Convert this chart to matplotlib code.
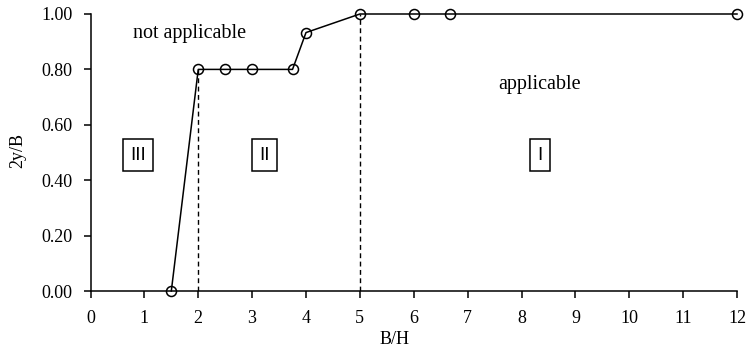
import matplotlib
matplotlib.use("Agg")
import matplotlib.pyplot as plt

plt.rcParams['font.family'] = ['Liberation Serif', 'DejaVu Serif']

bh = [1.5, 2, 2.5, 3, 3.75, 4, 5, 6, 6.67, 12]
y2b = [0.0, 0.8, 0.8, 0.8, 0.8, 0.933, 1.0, 1.0, 1.0, 1.0]
xticks = list(range(0, 13))
yticks = [0.0, 0.2, 0.4, 0.6, 0.8, 1.0]
boundaries = [(2, 0.8), (5, 1.0)]
regions = [(0.88, 0.49, "III"), (3.23, 0.49, "II"), (8.35, 0.49, "I")]
labels = [(1.83, 0.93, "not applicable"), (8.33, 0.745, "applicable")]

fig = plt.figure(figsize=(7.47, 3.52), dpi=100)
L, R = 90.5, 737
ax = fig.add_axes([L/747, 1-291/352, (R-L)/747, (291-14)/352])

for xb, yb in boundaries:
    ax.plot([xb, xb], [0, yb], color='black', lw=1.0, ls=(0, (3.5, 2.5)), zorder=1)

ax.plot(bh, y2b, color='black', lw=1.1, marker='o', ms=7.2, mfc='none',
        mec='black', mew=1.1, clip_on=False, zorder=3)

for x, y, t in regions:
    ax.text(x, y, t, ha='center', va='center', fontsize=13.5,
            family=['Liberation Sans', 'DejaVu Sans'],
            bbox=dict(boxstyle='square,pad=0.4', fc='white', ec='black', lw=1.1))
for x, y, t in labels:
    ax.text(x, y, t, ha='center', va='center', fontsize=14.5)

ax.set_xlim(0, 12)
ax.set_ylim(0, 1)
ax.set_xticks(xticks)
ax.set_yticks(yticks)
ax.set_yticklabels([f"{v:.2f}" for v in yticks])
ax.tick_params(direction='out', length=5, width=1.1, labelsize=13)
ax.tick_params(axis='x', pad=9)
ax.tick_params(axis='y', pad=8)
for s in ['top', 'right']:
    ax.spines[s].set_visible(False)
for s in ['left', 'bottom']:
    ax.spines[s].set_linewidth(1.1)
ax.set_xlabel("B/H", fontsize=13)
ax.xaxis.set_label_coords((395-L)/(R-L), (291-331)/277)
fig.text(18/747, 1-151/352, "2y/B", rotation=90, ha='center', va='center', fontsize=13)

fig.savefig("out.png", dpi=100)
